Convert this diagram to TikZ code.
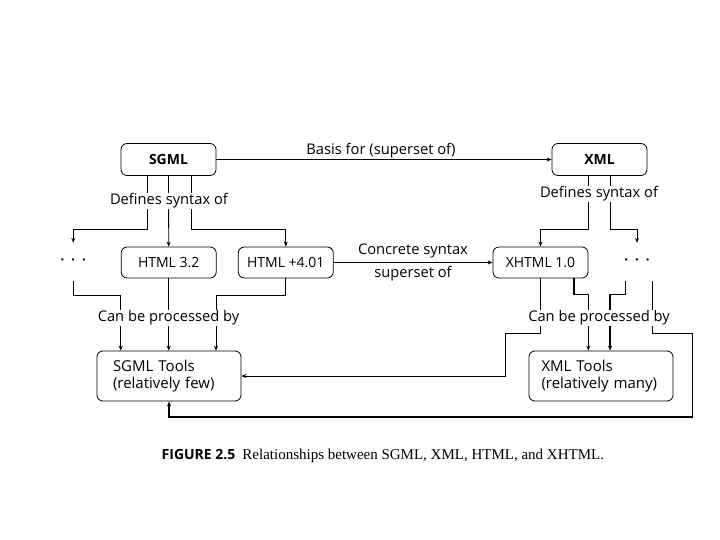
\documentclass[tikz,border=0pt]{standalone}
\usepackage{fontspec}
\setmainfont{Open Sans}
\newfontfamily\capserif{Liberation Serif}
\usetikzlibrary{arrows.meta}
\begin{document}
\begin{tikzpicture}[x=1pt,y=-1pt,
  box/.style={draw, rounded corners=6pt, line width=0.8pt, inner sep=0pt, minimum width=95pt, minimum height=32pt, font=\fontsize{14}{16}\selectfont},
  tools/.style={draw, rounded corners=6pt, line width=0.8pt, inner ysep=0pt, minimum height=50pt, align=left, font=\fontsize{15}{17}\selectfont},
  lbl/.style={font=\fontsize{14.7}{16}\selectfont, inner sep=1pt},
  mask/.style={lbl, fill=white},
  dots/.style={inner sep=0pt, minimum height=38pt, font=\bfseries\fontsize{13}{14}\selectfont},
  arr/.style={line width=0.8pt, -{Stealth[length=5pt,width=4pt]}},
  thk/.style={line width=1.3pt, -{Stealth[length=5pt,width=4pt]}}
]
\useasboundingbox (0,0) rectangle (720,540);

% nodes
\node[box, font=\bfseries\fontsize{14}{16}\selectfont] (sgml) at (168.5,159.5) {SGML};
\node[box, font=\bfseries\fontsize{14}{16}\selectfont] (xml) at (599.5,159.5) {XML};
\node[box, minimum height=31pt] (html32) at (168.7,262.5) {HTML 3.2};
\node[box, minimum height=31pt] (html401) at (285.8,262.5) {HTML +4.01};
\node[box, minimum height=31pt] (xhtml) at (540.5,262.5) {XHTML 1.0};
\node[dots] (dotsL) at (73.3,262) {·\hspace{7pt}·\hspace{7pt}·};
\node[dots] (dotsR) at (637,262) {·\hspace{7pt}·\hspace{7pt}·};
\node[tools, text width=112pt, inner xsep=16pt] (sgmltools) at (169,376) {SGML Tools\\(relatively few)};
\node[tools, text width=119pt, inner xsep=12.5pt] (xmltools) at (601,376) {XML Tools\\(relatively many)};

% connectors
\draw[arr] (sgml) -- (xml);
\draw[arr] ([xshift=-21.2pt]sgml.south) -- ++(0,53.5) -| (dotsL.north);
\draw[arr] (sgml.south) -- (html32.north);
\draw[arr] ([xshift=22.5pt]sgml.south) -- ++(0,53.5) -| (html401.north);
\draw[arr] ([xshift=-11.2pt]xml.south) -- ++(0,53.5) -| (xhtml.north);
\draw[arr] ([xshift=11.2pt]xml.south) -- ++(0,53.5) -| (dotsR.north);
\draw[thk] (html401) -- (xhtml);

\draw[arr] (dotsL.south) -- ++(0,14) -| ([xshift=-48.3pt]sgmltools.north);
\draw[arr] (html32.south) -- (html32.south |- sgmltools.north);
\draw[arr] (html401.south) -- ++(0,17) -| ([xshift=47pt]sgmltools.north);
\draw[arr] (xhtml.south) -- ++(0,55) -- ++(-35,0) |- (sgmltools.east);
\draw[thk] ([xshift=33.5pt]xhtml.south) -- ++(0,16) -| ([xshift=-12.7pt]xmltools.north);
\draw[thk] ([xshift=-11.3pt]dotsR.south) -- ++(0,13) -| ([xshift=9pt]xmltools.north);
\draw[thk] ([xshift=15.3pt]dotsR.south) -- ++(0,52.3) -- ++(40,0) -- ++(0,83.4) -| (sgmltools.south);

% labels
\node[lbl] (basis) at (381,151) {Basis for (superset of)};
\node[mask] (defL) at (169,201) {Defines syntax of};
\node[mask] (defR) at (599,194) {Defines syntax of};
\node[lbl] (conc) at (413,251) {Concrete syntax};
\node[lbl] (supof) at (413,273.5) {superset of};
\node[mask] (canL) at (168.5,318) {Can be processed by};
\node[mask] (canR) at (599,318) {Can be processed by};

% caption
\node[anchor=west, inner sep=0pt] (cap) at (161.5,456) {\bfseries\fontsize{14}{16}\selectfont FIGURE 2.5\hspace{7pt}\capserif\mdseries\fontsize{15}{16}\selectfont Relationships between SGML, XML, HTML, and XHTML.};
\end{tikzpicture}
\end{document}
